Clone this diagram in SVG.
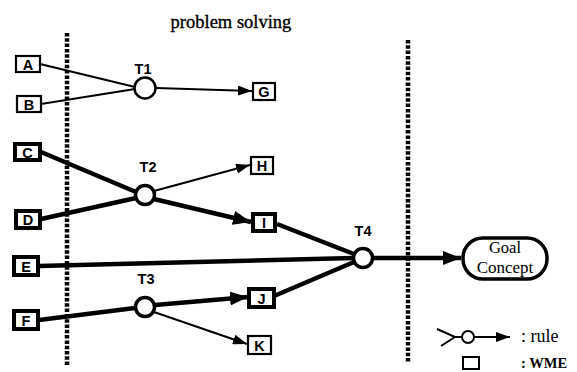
<svg xmlns="http://www.w3.org/2000/svg" width="577" height="372" viewBox="0 0 577 372">
<style>
.bg{fill:#fff}
.wme{fill:#fff;stroke:#000;stroke-width:2.2}
.wmeb{fill:#fff;stroke:#000;stroke-width:4}
.lbl{font-family:"Liberation Sans",Arial,sans-serif;font-weight:bold;font-size:14.5px;text-anchor:middle;fill:#000}
.ser{font-family:"Liberation Serif","Times New Roman",serif;fill:#000}
.rule{fill:#fff;stroke:#000;stroke-width:2.5}
.ruleb{fill:#fff;stroke:#000;stroke-width:3.5}
.thin{fill:none;stroke:#000;stroke-width:2}
.thick{fill:none;stroke:#000;stroke-width:4.5}
.div{fill:none;stroke:#000;stroke-width:4.5;stroke-dasharray:3.5 1.8}
</style>
<defs>
<marker id="ah" markerUnits="userSpaceOnUse" markerWidth="14" markerHeight="10" refX="14" refY="5" orient="auto"><path d="M0,0 L14,5 L0,10 Z" fill="#000"/></marker>
<marker id="ahb" markerUnits="userSpaceOnUse" markerWidth="18" markerHeight="14" refX="18" refY="7" orient="auto"><path d="M0,0 L18,7 L0,14 Z" fill="#000"/></marker>
</defs>
<rect class="bg" width="577" height="372"/>
<text class="ser" x="231" y="28" font-size="18.5" text-anchor="middle" stroke="#000" stroke-width="0.35">problem solving</text>
<g id="dividers">
<line class="div" x1="67" y1="33" x2="67" y2="366"/>
<line class="div" x1="408" y1="40" x2="408" y2="362"/>
</g>
<g id="connectors">
<line class="thin" x1="40" y1="64" x2="135" y2="87"/>
<line class="thin" x1="41" y1="104" x2="135" y2="89"/>
<line class="thin" x1="156" y1="88" x2="252" y2="91" marker-end="url(#ah)"/>
<line class="thick" x1="41" y1="152" x2="136" y2="192"/>
<line class="thick" x1="41" y1="219" x2="136" y2="198"/>
<line class="thin" x1="154" y1="191" x2="250" y2="165" marker-end="url(#ah)"/>
<line class="thick" x1="154" y1="199" x2="251" y2="222" marker-end="url(#ahb)"/>
<line class="thick" x1="277" y1="224" x2="354" y2="254"/>
<line class="thick" x1="39" y1="266" x2="353" y2="258"/>
<line class="thick" x1="274" y1="296" x2="354" y2="262"/>
<line class="thick" x1="39" y1="320" x2="135" y2="308"/>
<line class="thick" x1="155" y1="305" x2="248" y2="297" marker-end="url(#ahb)"/>
<line class="thin" x1="154" y1="312" x2="247" y2="344" marker-end="url(#ah)"/>
<line class="thick" x1="373" y1="258" x2="461" y2="258" stroke-width="3.5" marker-end="url(#ahb)"/>
</g>
<g id="A"><rect class="wme" x="16" y="56" width="24" height="16"/><text class="lbl" x="28" y="69.5">A</text></g>
<g id="B"><rect class="wme" x="17" y="96" width="24" height="16"/><text class="lbl" x="29" y="109.5">B</text></g>
<g id="C"><rect class="wmeb" x="15" y="144" width="25" height="16"/><text class="lbl" x="27.5" y="157.5">C</text></g>
<g id="D"><rect class="wmeb" x="16" y="211" width="24" height="17"/><text class="lbl" x="28" y="225">D</text></g>
<g id="E"><rect class="wmeb" x="14" y="257" width="24" height="18"/><text class="lbl" x="26" y="271.5">E</text></g>
<g id="F"><rect class="wmeb" x="14" y="311" width="24" height="18"/><text class="lbl" x="26" y="325.5">F</text></g>
<g id="G"><rect class="wme" x="253" y="83" width="22" height="17"/><text class="lbl" x="264" y="96.5">G</text></g>
<g id="H"><rect class="wme" x="251" y="157" width="22" height="17"/><text class="lbl" x="262" y="170.5">H</text></g>
<g id="I"><rect class="wmeb" x="253" y="214" width="22" height="17"/><text class="lbl" x="264" y="227.5">I</text></g>
<g id="J"><rect class="wmeb" x="249" y="289" width="25" height="18"/><text class="lbl" x="261.5" y="303.5">J</text></g>
<g id="K"><rect class="wme" x="248" y="336" width="23" height="18"/><text class="lbl" x="259.5" y="350.5">K</text></g>
<g id="T1"><circle class="rule" cx="145" cy="88" r="10.5"/><text class="lbl" x="143" y="74">T1</text></g>
<g id="T2"><circle class="ruleb" cx="145" cy="195" r="9.5"/><text class="lbl" x="148" y="172">T2</text></g>
<g id="T3"><circle class="ruleb" cx="145" cy="307" r="9.5"/><text class="lbl" x="146" y="284">T3</text></g>
<g id="T4"><circle class="ruleb" cx="363" cy="258" r="9.5"/><text class="lbl" x="363" y="236">T4</text></g>
<g id="Goal"><rect x="463" y="238" width="84" height="41" rx="20" fill="#fff" stroke="#000" stroke-width="3.5"/>
<text class="ser" x="505" y="253" font-size="16.5" text-anchor="middle">Goal</text>
<text class="ser" x="505" y="272.5" font-size="17" text-anchor="middle">Concept</text></g>
<g id="legend">
<line class="thin" x1="437" y1="329" x2="455" y2="337"/>
<line class="thin" x1="441" y1="346" x2="455" y2="337"/>
<line class="thin" x1="455" y1="337" x2="462" y2="337"/>
<circle class="thin" cx="468" cy="337" r="6"/>
<line class="thin" x1="474" y1="337" x2="510" y2="337" marker-end="url(#ah)"/>
<text class="ser" x="521" y="342" font-size="18">: rule</text>
<rect x="463" y="357" width="16" height="12" fill="#fff" stroke="#000" stroke-width="2"/>
<text class="ser" x="521" y="368" font-size="14.5" font-weight="bold">: WME</text>
</g>
</svg>
